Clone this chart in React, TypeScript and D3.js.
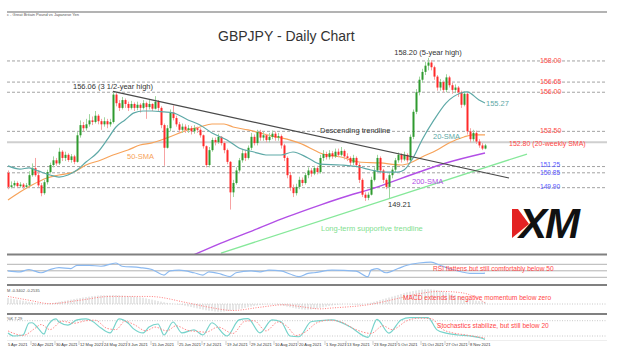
import * as d3 from 'd3';

// daily candles: [close, high, low]; open is the previous close
const firstOpen = 150.85;
const candles: [number, number, number][] = [
  [149.95, 151.0, 149.8], [150.05, 150.3, 149.85], [150.2, 150.35, 149.95], [150.0, 150.3, 149.9], [150.1, 150.25, 149.9],
  [149.95, 150.2, 149.8], [150.05, 150.2, 149.85], [150.7, 150.95, 150.0], [151.15, 151.45, 150.6], [150.7, 151.8, 150.6],
  [150.05, 151.0, 149.95], [149.55, 150.2, 149.35], [150.25, 150.4, 149.45], [150.9, 151.05, 150.1], [151.35, 151.5, 150.8],
  [151.65, 151.9, 151.2], [151.45, 151.8, 151.3], [152.2, 152.45, 151.35], [151.8, 152.3, 151.6], [152.0, 152.2, 151.6],
  [151.67, 152.1, 151.55], [151.9, 152.05, 151.5], [151.55, 152.0, 151.4], [153.25, 153.45, 151.5], [153.9, 154.2, 153.1],
  [153.7, 154.1, 153.5], [153.95, 154.3, 153.55], [154.2, 154.6, 153.8], [154.1, 154.45, 153.9], [154.5, 154.8, 154.0],
  [154.15, 154.6, 153.95], [153.95, 154.3, 153.6], [154.15, 154.4, 153.8], [153.95, 154.3, 153.7], [154.1, 154.3, 153.8],
  [155.85, 156.06, 154.0], [155.3, 155.95, 155.1], [155.0, 155.5, 154.8], [155.5, 155.7, 154.9], [155.25, 155.6, 155.0],
  [155.0, 155.4, 154.8], [155.25, 155.45, 154.9], [155.0, 155.35, 154.8], [155.2, 155.4, 154.85], [155.0, 155.3, 154.7],
  [155.3, 155.5, 154.9], [155.05, 155.4, 154.3], [155.25, 155.55, 154.9], [154.95, 155.3, 154.8], [155.4, 155.75, 154.9],
  [155.0, 155.5, 154.8], [153.9, 155.1, 153.7], [152.45, 154.0, 151.3], [153.7, 153.9, 152.4], [154.7, 154.9, 153.5],
  [154.35, 155.15, 154.2], [153.95, 154.5, 153.8], [153.6, 154.1, 153.4], [153.8, 154.0, 153.4], [153.6, 153.95, 153.4],
  [153.7, 153.9, 153.4], [153.5, 153.85, 153.3], [153.7, 153.9, 153.35], [153.6, 153.8, 153.4], [153.25, 153.7, 153.1],
  [152.55, 153.3, 152.4], [151.35, 152.6, 151.2], [152.3, 152.5, 151.2], [152.95, 153.1, 152.2], [152.8, 153.1, 152.6],
  [153.15, 153.35, 152.7], [152.75, 153.2, 152.6], [152.3, 152.85, 152.1], [151.55, 152.4, 151.4], [149.6, 151.6, 148.5],
  [150.2, 150.4, 149.3], [151.0, 151.2, 150.1], [151.65, 151.8, 150.9], [152.1, 152.3, 151.5], [151.8, 152.3, 151.6],
  [152.45, 152.6, 151.7], [153.15, 153.4, 152.3], [152.75, 153.3, 152.6], [153.45, 153.6, 152.6], [153.1, 153.6, 152.9],
  [153.25, 153.45, 152.9], [152.95, 153.35, 152.8], [153.15, 153.4, 152.8], [153.35, 153.55, 153.0], [153.1, 153.5, 152.9],
  [153.2, 153.4, 152.9], [152.6, 153.3, 152.4], [151.8, 152.7, 151.6], [150.7, 151.9, 150.5], [149.9, 150.9, 149.7],
  [149.55, 150.1, 149.3], [149.95, 150.15, 149.4], [150.4, 150.6, 149.8], [150.2, 150.55, 150.0], [150.7, 150.85, 150.1],
  [151.0, 151.2, 150.5], [150.8, 151.15, 150.6], [151.15, 151.3, 150.7], [150.9, 151.3, 150.75], [151.8, 152.0, 150.8],
  [152.05, 152.3, 151.6], [151.85, 152.2, 151.7], [152.1, 152.3, 151.7], [151.9, 152.25, 151.75], [152.2, 152.4, 151.8],
  [152.0, 152.4, 151.85], [152.25, 152.5, 151.9], [151.9, 152.35, 151.7], [151.8, 152.1, 151.6], [151.5, 151.9, 151.3],
  [151.8, 152.0, 151.35], [151.35, 151.9, 151.2], [150.4, 151.5, 150.2], [149.45, 150.5, 149.3], [149.25, 149.6, 149.05],
  [149.45, 149.6, 149.1], [150.4, 150.6, 149.4], [151.0, 151.2, 150.3], [151.8, 152.0, 150.9], [151.0, 151.9, 150.8],
  [150.4, 151.1, 150.2], [149.95, 150.5, 149.8], [150.7, 150.85, 149.21], [151.05, 151.2, 150.5], [151.65, 151.8, 150.9],
  [152.0, 152.15, 151.5], [151.7, 152.1, 151.5], [152.0, 152.2, 151.6], [151.65, 152.1, 151.5], [153.15, 153.3, 151.6],
  [154.75, 154.9, 153.0], [156.0, 156.2, 154.6], [156.8, 157.0, 155.8], [157.3, 157.5, 156.6], [157.7, 157.95, 157.1],
  [157.9, 158.2, 157.4], [157.6, 158.05, 157.4], [157.0, 157.7, 156.8], [156.3, 157.1, 156.1], [156.65, 156.85, 156.1],
  [156.15, 156.75, 156.0], [156.95, 157.15, 156.0], [156.45, 157.05, 156.3], [156.15, 156.6, 155.9], [156.3, 156.5, 155.95],
  [156.0, 156.4, 155.7], [155.2, 156.1, 155.0], [155.9, 156.05, 155.1], [153.5, 155.95, 153.3], [153.0, 153.7, 152.8],
  [153.4, 153.6, 152.85], [152.85, 153.55, 152.7], [152.6, 153.0, 152.45], [152.4, 152.75, 152.3], [152.6, 152.7, 152.35],
];

// moving averages: [bar index, price]
const sma20: [number, number][] = [
  [0, 151.29], [4, 151.09], [7, 151.16], [10, 150.97], [14, 150.71], [17, 150.58], [20, 150.71], [23, 151.03],
  [26, 151.54], [30, 152.18], [33, 152.95], [36, 153.78], [39, 154.23], [42, 154.68], [45, 154.8], [48, 154.8],
  [52, 154.74], [55, 154.68], [60, 154.23], [64, 153.91], [68, 153.4], [73, 152.95], [77, 152.44], [82, 152.18],
  [86, 151.99], [91, 151.99], [95, 152.18], [100, 151.8], [104, 151.41], [111, 151.35], [117, 151.22], [121, 151.03],
  [125, 150.9], [130, 150.9], [132, 151.03], [135, 151.8], [138, 152.95], [142, 154.23], [146, 155.31], [151, 155.95],
  [153, 156.02], [157, 155.51], [159, 155.31],
];
const sma50: [number, number][] = [
  [0, 149.11], [4, 149.62], [8, 150.07], [13, 150.52], [17, 150.71], [22, 150.9], [26, 151.35], [31, 151.67],
  [35, 151.99], [40, 152.31], [44, 152.63], [48, 152.76], [53, 153.08], [60, 153.59], [64, 153.78], [68, 153.97],
  [72, 153.97], [75, 153.78], [80, 153.59], [84, 153.4], [88, 153.2], [93, 153.0], [97, 152.76], [102, 152.31],
  [104, 152.12], [111, 151.86], [117, 151.54], [124, 151.48], [131, 151.35], [134, 151.48], [138, 151.86],
  [143, 152.31], [147, 152.76], [152, 153.14], [155, 153.27], [159, 153.27],
];
const sma200: [number, number][] = [
  [61, 145.53], [71, 146.36], [82, 147.19], [93, 148.03], [104, 148.79], [111, 149.24], [123, 149.94],
  [137, 150.9], [146, 151.48], [159, 152.12],
];
const descendingLine: [number, number][] = [[35, 156.06], [167, 150.52]];
const supportLine: [number, number][] = [[71, 145.72], [173, 152.05]];

const redLevels = [158.0, 156.65, 156.0, 153.5];
const blueLevels = [151.25, 150.85, 149.9];
const weeklySma = 152.8;

// indicators: [bar index, value]
const rsi: [number, number][] = [
  [0, 50], [4, 47], [7, 54], [11, 44], [14, 54], [17, 60], [21, 57], [23, 67], [27, 67], [31, 64], [36, 74],
  [38, 64], [44, 60], [48, 54], [52, 37], [54, 50], [57, 52], [62, 44], [65, 37], [67, 47], [71, 40], [74, 32],
  [76, 44], [81, 50], [84, 47], [87, 52], [91, 50], [94, 40], [97, 32], [100, 42], [102, 44], [108, 52],
  [116, 49], [120, 32], [121, 52], [123, 57], [126, 44], [130, 57], [133, 67], [137, 74], [141, 77], [144, 67],
  [147, 57], [151, 47], [154, 42], [158, 42], [159, 43],
];
const macdSignal: [number, number][] = [
  [0, 0.7], [7, 0.35], [14, 0.03], [24, 0.35], [34, 0.7], [47, 0.7], [60, 0.1], [67, -0.3], [75, -0.6],
  [84, -0.3], [92, -0.07], [97, -0.22], [104, -0.45], [108, -0.37], [120, -0.07], [131, 0.58], [137, 0.95],
  [144, 1.17], [151, 1.05], [156, 0.6], [159, 0.1],
];
const macdHist = [
  0.55, 0.5, 0.45, 0.4, 0.35, 0.3, 0.25, 0.2, 0.15, 0.1,
  0.06, 0.02, 0.0, 0.02, 0.06, 0.1, 0.15, 0.2, 0.25, 0.3,
  0.35, 0.4, 0.45, 0.5, 0.55, 0.6, 0.64, 0.68, 0.72, 0.75,
  0.78, 0.8, 0.8, 0.8, 0.8, 0.82, 0.82, 0.8, 0.78, 0.76,
  0.74, 0.72, 0.7, 0.66, 0.62, 0.58, 0.52, 0.46, 0.4, 0.34,
  0.28, 0.22, 0.16, 0.1, 0.06, 0.02, -0.02, -0.06, -0.1, -0.16,
  -0.22, -0.28, -0.34, -0.4, -0.46, -0.52, -0.58, -0.62, -0.66, -0.7,
  -0.72, -0.72, -0.7, -0.66, -0.62, -0.58, -0.54, -0.48, -0.42, -0.36,
  -0.3, -0.24, -0.18, -0.14, -0.1, -0.06, -0.04, -0.02, -0.02, -0.04,
  -0.08, -0.12, -0.18, -0.24, -0.3, -0.36, -0.42, -0.46, -0.5, -0.52,
  -0.52, -0.5, -0.46, -0.42, -0.36, -0.3, -0.24, -0.18, -0.14, -0.1,
  -0.06, -0.02, 0.0, 0.0, -0.02, -0.04, -0.06, -0.06, -0.04, 0.0,
  0.06, 0.12, 0.2, 0.28, 0.36, 0.44, 0.52, 0.6, 0.68, 0.76,
  0.84, 0.92, 1.0, 1.08, 1.14, 1.2, 1.25, 1.3, 1.33, 1.35,
  1.36, 1.35, 1.32, 1.28, 1.22, 1.16, 1.08, 1.0, 0.92, 0.84,
  0.74, 0.66, 0.58, 0.5, 0.44, 0.38, 0.32, 0.28, 0.24, 0.2,
];
const stochK: [number, number][] = [
  [0, 32], [2, 20], [5, 24], [7, 71], [8, 72], [10, 51], [12, 28], [13, 55], [16, 87], [17, 75], [20, 63],
  [23, 83], [26, 87], [28, 79], [31, 51], [34, 32], [37, 87], [40, 71], [42, 47], [45, 32], [47, 55], [50, 67],
  [52, 24], [55, 75], [58, 32], [62, 44], [65, 24], [68, 72], [73, 20], [77, 83], [80, 88], [84, 32], [88, 83],
  [91, 76], [94, 20], [97, 17], [101, 76], [104, 80], [108, 83], [114, 56], [120, 15], [123, 85], [127, 31],
  [131, 83], [134, 92], [140, 92], [143, 44], [146, 31], [150, 24], [154, 20], [158, 11], [159, 7],
];
const stochD: [number, number][] = [
  [0, 40], [2, 30], [5, 22], [9, 50], [11, 65], [14, 45], [18, 78], [22, 70], [26, 80], [29, 82], [33, 50],
  [36, 45], [39, 78], [42, 65], [46, 40], [49, 55], [53, 40], [56, 60], [60, 42], [63, 38], [66, 35], [70, 55],
  [75, 30], [79, 78], [82, 80], [86, 40], [90, 75], [93, 58], [96, 22], [99, 35], [103, 72], [107, 82],
  [111, 75], [116, 45], [121, 30], [125, 60], [128, 45], [133, 80], [137, 90], [141, 88], [145, 45], [148, 33],
  [152, 25], [156, 18], [159, 12],
];

const firstDateLabel = '5 Apr 2021';
const dateLabels = [
  '20 Apr 2021', '30 Apr 2021', '12 May 2021', '24 May 2021', '3 Jun 2021', '15 Jun 2021', '25 Jun 2021',
  '7 Jul 2021', '19 Jul 2021', '29 Jul 2021', '10 Aug 2021', '20 Aug 2021', '1 Sep 2021', '13 Sep 2021',
  '23 Sep 2021', '5 Oct 2021', '15 Oct 2021', '27 Oct 2021', '8 Nov 2021',
];
const dateIndex = [8, 16, 24, 32, 40, 48, 57, 65, 73, 81, 89, 97, 106, 113, 122, 130, 138, 146, 154];

const font = 'Liberation Sans, Arial, sans-serif';
const LEFT = 7;
const RIGHT = 607;

export default function App() {
  const width = 624;
  const height = 364;
  const n = candles.length;
  const x = d3.scaleLinear().domain([0, n - 1]).range([8, 485]);
  const yP = d3.scaleLinear().domain([145.66, 161.13]).range([254, 12]);
  const yRsi = d3.scaleLinear().domain([30, 70]).range([277.3, 264.3]);
  const yMacd = d3.scaleLinear().domain([0, 1]).range([304, 293.2]);
  const yStoch = d3.scaleLinear().domain([0, 100]).range([341.1, 315.6]);

  const priceLine = d3.line<[number, number]>().x((d) => x(d[0])).y((d) => yP(d[1])).curve(d3.curveMonotoneX);
  const straight = d3.line<[number, number]>().x((d) => x(d[0])).y((d) => yP(d[1]));
  const rsiLine = d3.line<[number, number]>().x((d) => x(d[0])).y((d) => yRsi(d[1])).curve(d3.curveMonotoneX);
  const macdLine = d3.line<[number, number]>().x((d) => x(d[0])).y((d) => yMacd(d[1])).curve(d3.curveMonotoneX);
  const stochLine = d3.line<[number, number]>().x((d) => x(d[0])).y((d) => yStoch(d[1])).curve(d3.curveMonotoneX);

  const bars = candles.map((c, i) => {
    const open = i === 0 ? firstOpen : candles[i - 1][0];
    const [close, high, low] = c;
    const up = close >= open;
    const top = yP(Math.max(open, close));
    const bottom = yP(Math.min(open, close));
    const cx = Math.round(x(i)) + 0.5;
    return (
      <g key={i}>
        <line x1={cx} x2={cx} y1={yP(high)} y2={yP(low)} stroke={up ? '#9fd69f' : '#f7a3a3'} strokeWidth={1} />
        <rect
          x={cx - 1}
          y={top}
          width={2}
          height={Math.max(1, bottom - top)}
          fill={up ? '#2f9a2f' : '#ff2a2a'}
        />
      </g>
    );
  });

  const label = (txt: string, lx: number, ly: number, fill: string, size = 7.5, anchor = 'start') => (
    <text x={lx} y={ly} fill={fill} fontSize={size} fontFamily={font} textAnchor={anchor} dominantBaseline="middle">
      {txt}
    </text>
  );

  // small nudge so the two close blue labels do not collide
  const blueNudge = [-1, 0.8, 0];

  return (
    <svg width={width} height={height} style={{ position: 'absolute', left: 0, top: 0, background: '#fff' }}>
      <defs>
        <clipPath id="mainClip">
          <rect x={LEFT} y={12} width={RIGHT - LEFT} height={242} />
        </clipPath>
      </defs>
      <rect width={width} height={height} fill="#fff" />

      {/* frame lines */}
      <line x1={LEFT} x2={RIGHT} y1={12} y2={12} stroke="#9a9a9a" strokeWidth={1.5} />
      <text x={LEFT} y={15.5} fontSize={4} fontFamily={font} fill="#555">
        c - Great Britain Pound vs Japanese Yen
      </text>
      <text x={218} y={41} fontSize={14} fontFamily={font} fill="#333">
        GBPJPY - Daily Chart
      </text>

      {/* levels */}
      {[...redLevels, ...blueLevels].map((lv) => (
        <line key={lv} x1={LEFT} x2={RIGHT} y1={yP(lv)} y2={yP(lv)} stroke="#8a8a8a" strokeWidth={0.8} strokeDasharray="3,2" />
      ))}
      <line x1={LEFT} x2={RIGHT} y1={yP(weeklySma)} y2={yP(weeklySma)} stroke="#cfcfcf" strokeWidth={2} />

      <g clipPath="url(#mainClip)">
        <path d={straight(supportLine) ?? ''} fill="none" stroke="#86e89a" strokeWidth={1.3} />
        <path d={priceLine(sma200) ?? ''} fill="none" stroke="#b24fe6" strokeWidth={1.4} />
        <path d={priceLine(sma50) ?? ''} fill="none" stroke="#f7a35a" strokeWidth={1.2} />
        {bars}
        <path d={priceLine(sma20) ?? ''} fill="none" stroke="#5ea9a7" strokeWidth={1.2} />
        <path d={straight(descendingLine) ?? ''} fill="none" stroke="#4a4a4a" strokeWidth={1.2} />
      </g>

      {/* level labels */}
      {redLevels.map((lv) => (
        <g key={lv}>{label(lv.toFixed(2), 540, yP(lv), '#ff4747', 7)}</g>
      ))}
      {label(`${weeklySma.toFixed(2)} (20-weekly SMA)`, 509, yP(weeklySma) + 1.5, '#ff4747', 7)}
      {blueLevels.map((lv, k) => (
        <g key={lv}>{label(lv.toFixed(2), 540, yP(lv) + blueNudge[k], '#5555ff', 6.6)}</g>
      ))}

      {/* annotations */}
      {label('158.20 (5-year high)', x(140), yP(158.2) - 5, '#333', 7.5, 'middle')}
      {label('156.06 (3 1/2-year high)', x(35), yP(156.06) - 4, '#333', 7.5, 'middle')}
      {label('149.21', 388, 205, '#333')}
      {label('Descending trendline', 320, 131, '#333')}
      {label('20-SMA', 433, 137, '#5ea9a7')}
      {label('155.27', 486, 104, '#5ea9a7')}
      {label('50-SMA', 127, 157, '#f7a35a')}
      {label('200-SMA', 412, 182, '#b24fe6')}
      {label('Long-term supportive trendline', 321, 229, '#7fe08f')}

      {/* XM logo */}
      <polygon points="512,209 518,209 529,224 512,238" fill="#e32222" />
      <text x={519} y={238} fontSize={42} fontWeight="bold" fontStyle="italic" fontFamily={font} fill="#111" letterSpacing={-2}>
        XM
      </text>

      {/* RSI panel */}
      <line x1={LEFT} x2={RIGHT} y1={254.5} y2={254.5} stroke="#808080" strokeWidth={2} />
      {[70, 50, 30].map((v) => (
        <line key={v} x1={LEFT} x2={RIGHT} y1={yRsi(v)} y2={yRsi(v)} stroke="#b3b3b3" strokeWidth={1} />
      ))}
      <path d={rsiLine(rsi) ?? ''} fill="none" stroke="#8bb9f0" strokeWidth={1.2} />
      {label('RSI flattens but still comfortably below 50', 433, 269, '#ff4747', 6.6)}

      {/* MACD panel */}
      <line x1={LEFT} x2={RIGHT} y1={285} y2={285} stroke="#808080" strokeWidth={2} />
      <text x={LEFT} y={292} fontSize={4} fontFamily={font} fill="#555">
        M -0.3402 -0.2535
      </text>
      <line x1={LEFT} x2={RIGHT} y1={yMacd(0)} y2={yMacd(0)} stroke="#bbb" strokeWidth={0.8} strokeDasharray="1,1.5" />
      {macdHist.map((v, i) => (
        <line key={i} x1={x(i)} x2={x(i)} y1={yMacd(0)} y2={yMacd(v)} stroke="#c4c4c4" strokeWidth={0.8} />
      ))}
      <path d={macdLine(macdSignal) ?? ''} fill="none" stroke="#ff7d7d" strokeWidth={1} strokeDasharray="1,1.5" />
      {label('MACD extends its negative momentum below zero', 403, 298, '#ff4747', 6.6)}

      {/* Stochastics panel */}
      <line x1={LEFT} x2={RIGHT} y1={314} y2={314} stroke="#808080" strokeWidth={2} />
      <text x={LEFT} y={320} fontSize={4} fontFamily={font} fill="#555">
        %K 7.29
      </text>
      {[80, 20].map((v) => (
        <line key={v} x1={LEFT} x2={RIGHT} y1={yStoch(v)} y2={yStoch(v)} stroke="#bbb" strokeWidth={0.8} strokeDasharray="1,1.5" />
      ))}
      <path d={stochLine(stochK) ?? ''} fill="none" stroke="#76d3cb" strokeWidth={1.2} />
      <path d={stochLine(stochD) ?? ''} fill="none" stroke="#ff8a8a" strokeWidth={1} strokeDasharray="1.5,1.5" />
      {label('Stochastics stabilize, but still below 20', 437, 326, '#ff4747', 6.6)}

      {/* date axis */}
      <line x1={LEFT} x2={RIGHT} y1={340.5} y2={340.5} stroke="#ddd" strokeWidth={0.5} />
      <text x={x(0)} y={345.5} fontSize={4} fontFamily={font} fill="#333">
        {firstDateLabel}
      </text>
      {dateLabels.map((d, k) => (
        <g key={d}>
          <line x1={x(dateIndex[k]) - 1} x2={x(dateIndex[k]) - 1} y1={341} y2={345} stroke="#999" strokeWidth={0.5} />
          <text x={x(dateIndex[k])} y={345.5} fontSize={4} fontFamily={font} fill="#333">
            {d}
          </text>
        </g>
      ))}
    </svg>
  );
}
